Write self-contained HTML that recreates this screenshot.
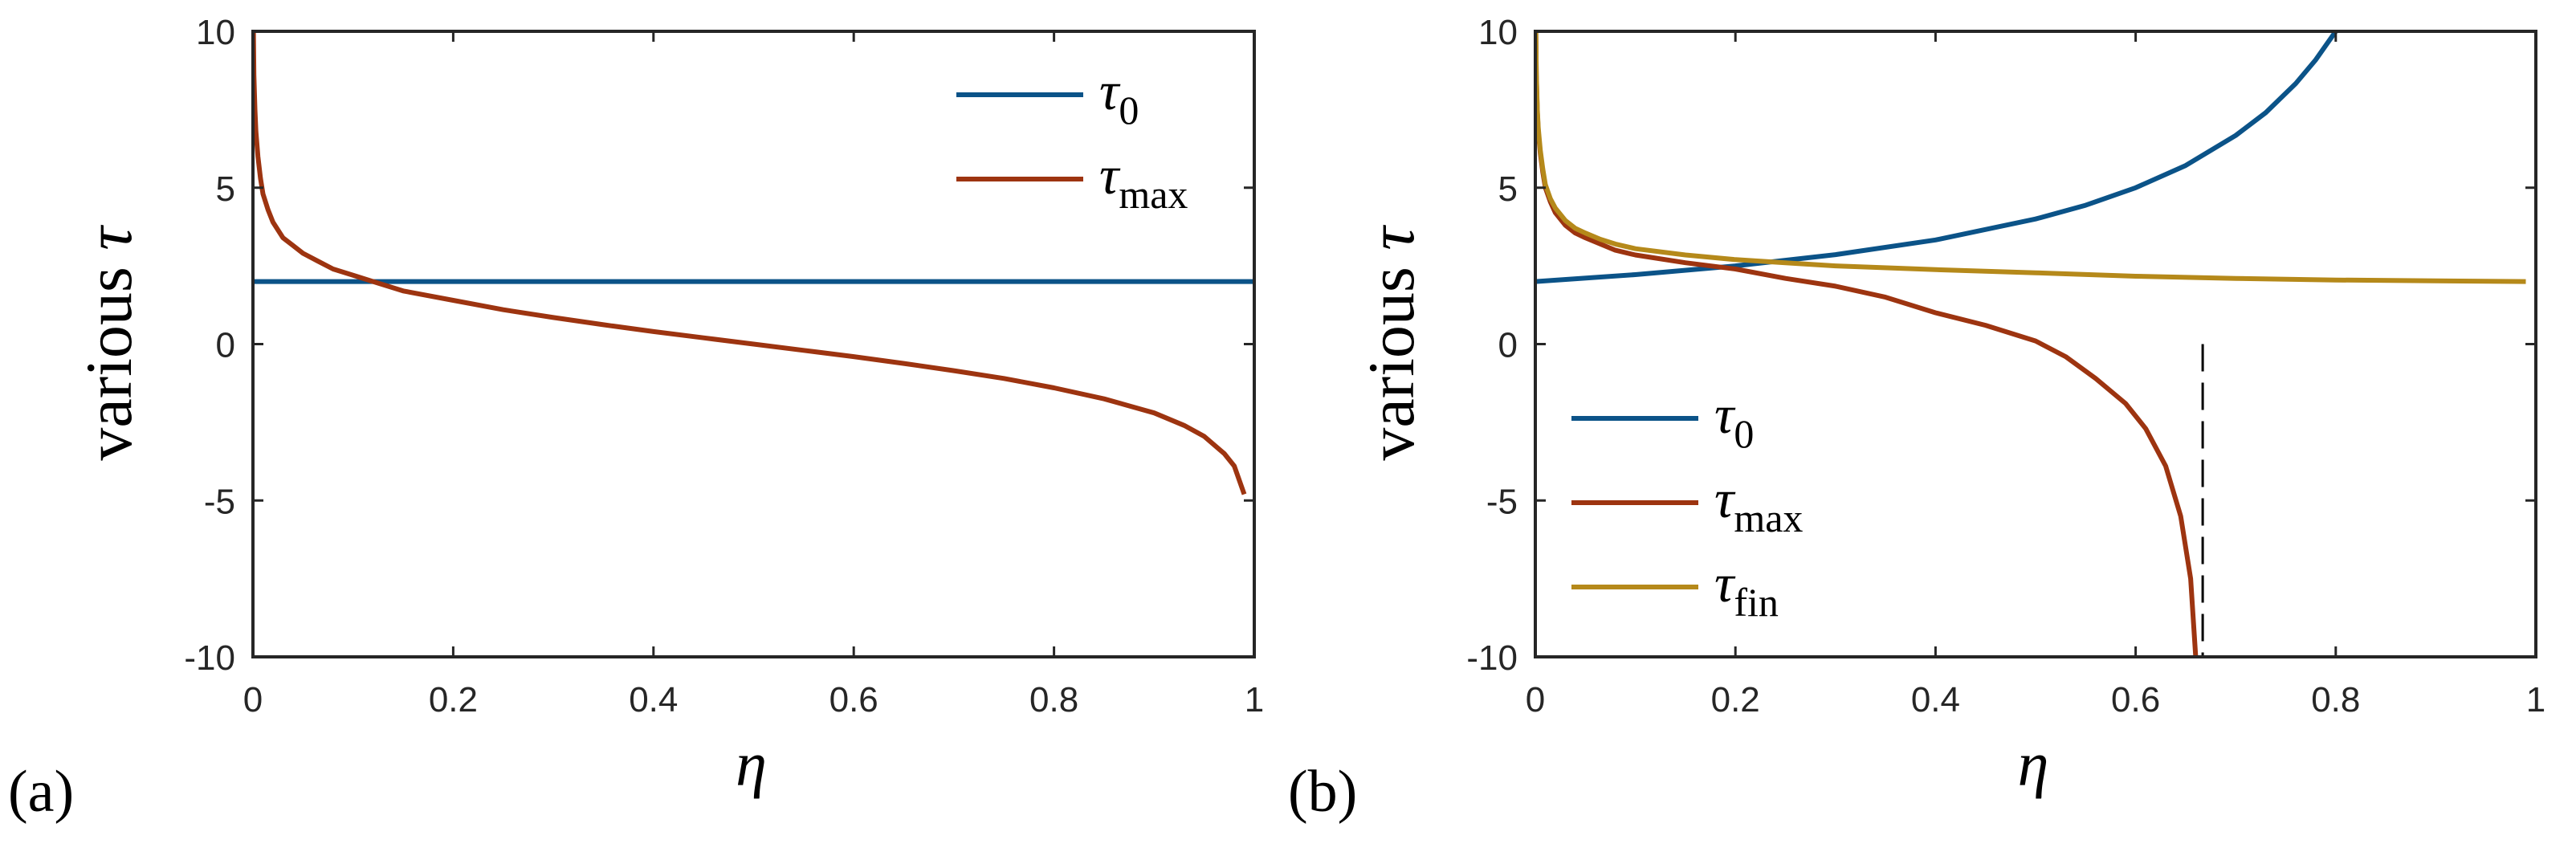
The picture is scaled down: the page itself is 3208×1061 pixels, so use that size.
<!DOCTYPE html>
<html><head><meta charset="utf-8"><style>
html,body{margin:0;padding:0;background:#fff;}
svg{display:block;}
.tk{font-family:"Liberation Sans",sans-serif;font-size:44px;fill:#262626;}
.lab{font-family:"Liberation Serif",serif;fill:#000;}
</style></head><body>
<svg id="fig" width="3208" height="1061" viewBox="0 0 3208 1061" xmlns="http://www.w3.org/2000/svg"></svg>
<script>
// Panel (a) data
const etaA0 = [0, 1];
const tau0A = [2, 2];
const etaAmax = [0.0005,0.001,0.002,0.003,0.005,0.0075,0.01,0.015,0.02,0.03,0.04,0.05,0.065,0.08,0.1,0.12,0.15,0.2,0.25,0.3,0.35,0.4,0.45,0.5,0.55,0.6,0.65,0.7,0.75,0.8,0.85,0.9,0.93,0.95,0.97,0.98,0.99];
const tauAmax = [10,8.6,7.5,6.8,6.0,5.3,4.8,4.3,3.9,3.4,3.15,2.9,2.65,2.4,2.2,2.0,1.7,1.4,1.1,0.85,0.62,0.4,0.2,0,-0.2,-0.4,-0.62,-0.85,-1.1,-1.4,-1.75,-2.2,-2.6,-2.95,-3.5,-3.9,-4.8];
// Panel (b) data
const etaB0 = [0,0.1,0.2,0.3,0.4,0.5,0.55,0.6,0.65,0.7,0.73,0.76,0.78,0.8];
const tauB0 = [2,2.22,2.5,2.86,3.33,4.0,4.44,5.0,5.71,6.67,7.4,8.33,9.09,10];
const etaBmax = [0.0005,0.001,0.002,0.003,0.005,0.0075,0.01,0.015,0.02,0.03,0.04,0.05,0.065,0.08,0.1,0.15,0.2,0.25,0.3,0.35,0.4,0.45,0.5,0.53,0.56,0.59,0.61,0.63,0.645,0.655,0.66];
const tauBmax = [10,8.6,7.4,6.8,6.1,5.5,5.0,4.55,4.2,3.8,3.55,3.4,3.2,3.0,2.85,2.6,2.4,2.1,1.85,1.5,1.0,0.6,0.1,-0.4,-1.1,-1.9,-2.7,-3.9,-5.5,-7.5,-10];
const etaBfin = [0.0005,0.001,0.002,0.003,0.005,0.0075,0.01,0.015,0.02,0.03,0.04,0.05,0.065,0.08,0.1,0.15,0.2,0.25,0.3,0.4,0.5,0.6,0.7,0.8,0.9,0.99];
const tauBfin = [10,8.7,7.5,6.9,6.2,5.6,5.1,4.65,4.35,3.95,3.7,3.55,3.35,3.2,3.05,2.85,2.7,2.6,2.5,2.38,2.28,2.17,2.1,2.05,2.02,2.0];
const dashEta = [0.667, 0.667];
const dashTau = [0, -10];
const xTicks = [0,0.2,0.4,0.6,0.8,1];
const xTickLabels = ["0","0.2","0.4","0.6","0.8","1"];
const yTicks = [10,5,0,-5,-10];
const yTickLabels = ["10","5","0","-5","-10"];

const NS = "http://www.w3.org/2000/svg";
const svg = document.getElementById('fig');
function mk(tag, attrs, parent){const e=document.createElementNS(NS,tag);for(const k in attrs)e.setAttribute(k,attrs[k]);(parent||svg).appendChild(e);return e;}

function panel(px0, px1, name){
  const py0 = 39, py1 = 818;
  const sx = v => px0 + v*(px1-px0);
  const sy = v => py1 - (v+10)/20*(py1-py0);
  const g = mk('g', {});
  
  
  const clipId = name + '-clip';
  const cp = mk('clipPath', {id: clipId}, g);
  mk('rect', {x:px0, y:py0-2, width:px1-px0, height:py1-py0+4}, cp);
  const plot = mk('g', {'clip-path':'url(#'+clipId+')'}, g);
  function line(xs, ys, color, nm, dash){
    const d = xs.map((x,i)=>(i?'L':'M')+sx(x).toFixed(1)+','+sy(ys[i]).toFixed(1)).join(' ');
    const p = mk('path', {d:d, fill:'none', stroke:color, 'stroke-width': dash?3:6, 'stroke-linejoin':'round'}, plot);
    if(dash) p.setAttribute('stroke-dasharray', '34,14');
    
    
    return p;
  }
  const box = mk('rect', {x:px0, y:py0, width:px1-px0, height:py1-py0, fill:'none', stroke:'#262626', 'stroke-width':4}, g);
  
  
  xTicks.forEach((t,i)=>{
    const x = sx(t);
    mk('line', {x1:x, y1:py1, x2:x, y2:py1-13, stroke:'#262626', 'stroke-width':3}, g);
    mk('line', {x1:x, y1:py0, x2:x, y2:py0+13, stroke:'#262626', 'stroke-width':3}, g);
    const tx = mk('text', {x:x, y:py1+68, 'text-anchor':'middle', class:'tk'}, g);
    tx.textContent = xTickLabels[i];
    
    
  });
  yTicks.forEach((t,i)=>{
    const y = sy(t);
    mk('line', {x1:px0, y1:y, x2:px0+13, y2:y, stroke:'#262626', 'stroke-width':3}, g);
    mk('line', {x1:px1, y1:y, x2:px1-13, y2:y, stroke:'#262626', 'stroke-width':3}, g);
    const tx = mk('text', {x:px0-22, y:y+16, 'text-anchor':'end', class:'tk'}, g);
    tx.textContent = yTickLabels[i];
    
    
  });
  const xl = mk('text', {x:(px0+px1)/2 - 3, y:978, 'text-anchor':'middle', class:'lab', 'font-size':78, 'font-style':'italic'}, g);
  xl.textContent = 'η';
  
  
  const yl = mk('text', {x:0, y:0, 'text-anchor':'middle', class:'lab', 'font-size':82, transform:'translate('+(px0-152)+',428) rotate(-90)'}, g);
  yl.innerHTML = 'various <tspan font-style="italic">τ</tspan>';
  
  
  return {line, g, sx, sy};
}

const BLUE = '#0b5388', RED = '#9d3410', GOLD = '#b5891a';
function legend(g, x, y, color, main, sub, nm){
  const e = mk('g', {}, g);
  
  
  mk('line', {x1:x, y1:y, x2:x+158, y2:y, stroke:color, 'stroke-width':6}, e);
  const t = mk('text', {x:x+178, y:y+18, class:'lab', 'font-size':68}, e);
  t.innerHTML = '<tspan font-style="italic">'+main+'</tspan><tspan font-size="50" dy="18">'+sub+'</tspan>';
}

const A = panel(315, 1562, 'panel-a');
A.line(etaA0, tau0A, BLUE, 'tau0-line');
A.line(etaAmax, tauAmax, RED, 'tau-max-line');
legend(A.g, 1191, 118, BLUE, 'τ', '0', 'legend-entry-tau0');
legend(A.g, 1191, 223, RED, 'τ', 'max', 'legend-entry-tau-max');

const B = panel(1912, 3158, 'panel-b');
B.line(etaB0, tauB0, BLUE, 'tau0-line');
B.line(etaBmax, tauBmax, RED, 'tau-max-line');
B.line(etaBfin, tauBfin, GOLD, 'tau-fin-line');
B.line(dashEta, dashTau, '#000', 'asymptote-dashed-line', true);
legend(B.g, 1957, 521, BLUE, 'τ', '0', 'legend-entry-tau0');
legend(B.g, 1957, 626, RED, 'τ', 'max', 'legend-entry-tau-max');
legend(B.g, 1957, 731, GOLD, 'τ', 'fin', 'legend-entry-tau-fin');

const la = mk('text', {x:10, y:1010, class:'lab', 'font-size':74});
la.textContent = '(a)';


const lb = mk('text', {x:1604, y:1010, class:'lab', 'font-size':74});
lb.textContent = '(b)';


</script>
</body></html>
